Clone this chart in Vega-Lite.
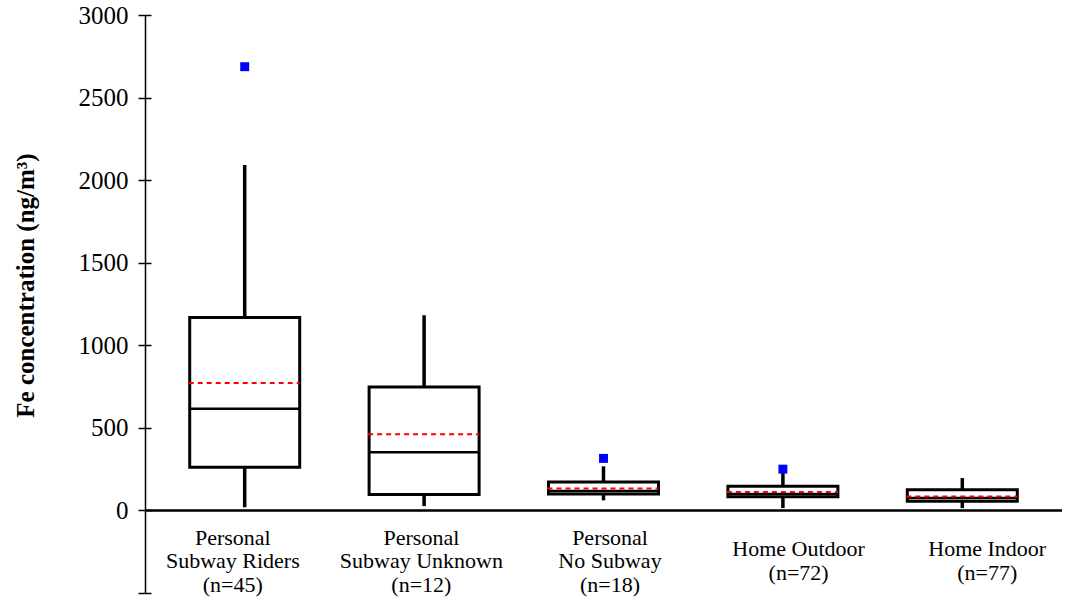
{
  "$schema": "https://vega.github.io/schema/vega-lite/v6.json",
  "width": 917,
  "height": 578,
  "autosize": "none",
  "padding": {"left": 145, "top": 15, "right": 4, "bottom": 4},
  "background": "white",
  "config": {"view": {"stroke": null}, "font": "Liberation Serif"},
  "data": {
    "values": [
      {"group": "Personal\nSubway Riders\n(n=45)", "min": 20, "q1": 262, "median": 616, "q3": 1168, "max": 2091, "mean": 772, "outlier": 2687},
      {"group": "Personal\nSubway Unknown\n(n=12)", "min": 26, "q1": 97, "median": 352, "q3": 747, "max": 1182, "mean": 461, "outlier": null},
      {"group": "Personal\nNo Subway\n(n=18)", "min": 61, "q1": 99, "median": 117, "q3": 172, "max": 267, "mean": 133, "outlier": 315},
      {"group": "Home Outdoor\n(n=72)", "min": 14, "q1": 83, "median": 99, "q3": 147, "max": 226, "mean": 111, "outlier": 250},
      {"group": "Home Indoor\n(n=77)", "min": 14, "q1": 56, "median": 75, "q3": 125, "max": 196, "mean": 85, "outlier": null}
    ]
  },
  "resolve": {"scale": {"x": "independent"}, "axis": {"y": "independent"}},
  "layer": [
    {
      "mark": {"type": "rule", "color": "black", "strokeWidth": 1.5},
      "encoding": {
        "y": {
          "datum": 0,
          "type": "quantitative",
          "scale": {"domain": [-500, 3000], "nice": false, "zero": false},
          "axis": {
            "orient": "left",
            "values": [-500, 0, 500, 1000, 1500, 2000, 2500, 3000],
            "format": "d",
            "labelExpr": "datum.value < 0 ? '' : datum.label",
            "grid": false,
            "domainColor": "black",
            "domainWidth": 1.5,
            "tickColor": "black",
            "tickWidth": 1.5,
            "tickSize": 7,
            "labelFont": "Liberation Serif",
            "labelFontSize": 25,
            "labelColor": "black",
            "labelPadding": 10,
            "title": "Fe concentration (ng/m³)",
            "titleFont": "Liberation Serif",
            "titleFontSize": 25,
            "titleFontWeight": "bold",
            "titleColor": "black",
            "titleX": -120,
            "titleY": 270,
            "titleBaseline": "middle"
          }
        }
      }
    },
    {
      "encoding": {
        "x": {"field": "group", "type": "nominal", "sort": null, "scale": {"range": [10, 907]}, "axis": null}
      },
      "layer": [
        {
          "mark": {"type": "rule", "color": "black", "strokeWidth": 3.5},
          "encoding": {
            "y": {"field": "min", "type": "quantitative", "scale": {"domain": [-500, 3000], "nice": false, "zero": false}, "axis": null},
            "y2": {"field": "max"}
          }
        },
        {
          "mark": {"type": "bar", "fill": "white", "stroke": "black", "strokeWidth": 3, "size": 110},
          "encoding": {
            "y": {"field": "q1", "type": "quantitative", "scale": {"domain": [-500, 3000], "nice": false, "zero": false}, "axis": null},
            "y2": {"field": "q3"}
          }
        },
        {
          "mark": {"type": "tick", "color": "black", "thickness": 2.5, "size": 110, "opacity": 1},
          "encoding": {
            "y": {"field": "median", "type": "quantitative", "scale": {"domain": [-500, 3000], "nice": false, "zero": false}, "axis": null}
          }
        },
        {
          "mark": {"type": "rule", "color": "#FF0000", "strokeWidth": 2, "strokeDash": [5, 4], "xOffset": -56, "x2Offset": 55},
          "encoding": {
            "x2": {"field": "group"},
            "y": {"field": "mean", "type": "quantitative", "scale": {"domain": [-500, 3000], "nice": false, "zero": false}, "axis": null}
          }
        },
        {
          "mark": {"type": "point", "shape": "square", "filled": true, "color": "#0000FF", "size": 80, "opacity": 1},
          "encoding": {
            "y": {"field": "outlier", "type": "quantitative", "scale": {"domain": [-500, 3000], "nice": false, "zero": false}, "axis": null}
          }
        }
      ]
    },
    {
      "mark": {"type": "point", "opacity": 0},
      "encoding": {
        "x": {
          "field": "group",
          "type": "nominal",
          "sort": null,
          "scale": {"range": [-7, 936]},
          "axis": {
            "orient": "bottom",
            "domain": false,
            "ticks": false,
            "labelExpr": "split(datum.label, '\\n')",
            "labelFont": "Liberation Serif",
            "labelFontSize": 22,
            "labelColor": "black",
            "labelLineHeight": 23.5,
            "labelBaseline": "middle",
            "labelAngle": 0,
            "labelAlign": "center",
            "labelPadding": {"condition": {"test": "indexof(datum.value, 'Home') === 0", "value": 11.5}, "value": 0},
            "labelOverlap": false,
            "labelLimit": 400,
            "offset": -56,
            "title": null
          }
        },
        "y": {
          "datum": 0,
          "type": "quantitative",
          "scale": {"domain": [-500, 3000], "nice": false, "zero": false},
          "axis": {
            "orient": "left",
            "values": [-500, 0, 500, 1000, 1500, 2000, 2500, 3000],
            "labels": false,
            "domain": false,
            "grid": false,
            "tickSize": -6,
            "tickWidth": 1.5,
            "tickColor": "black",
            "title": null
          }
        }
      }
    }
  ]
}
